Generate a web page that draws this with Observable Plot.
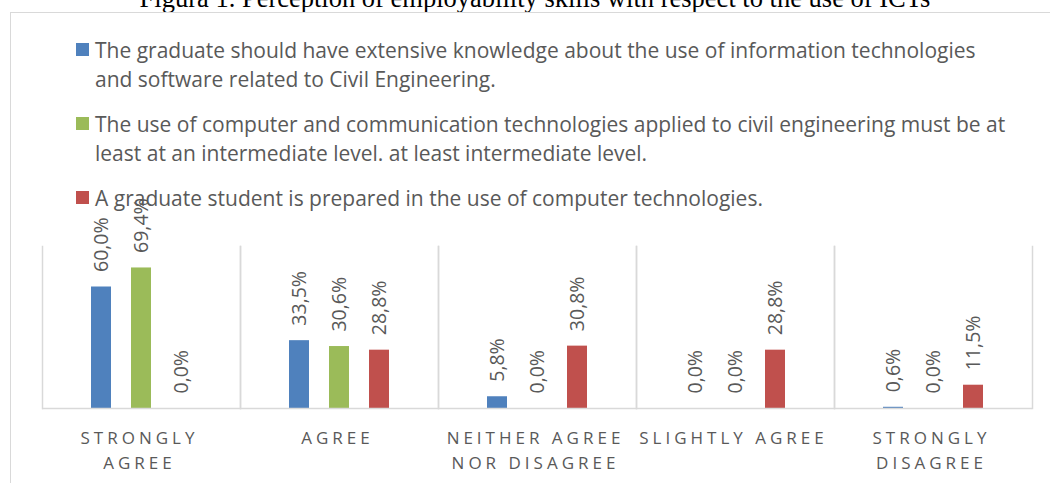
<!DOCTYPE html>
<html><head><meta charset="utf-8">
<script src="https://cdn.jsdelivr.net/npm/d3@7"></script>
<script src="https://cdn.jsdelivr.net/npm/@observablehq/plot@0.6"></script>
<style>
html,body{margin:0;padding:0;background:#fff;}
body{width:1050px;height:483px;overflow:hidden;position:relative;font-family:"Open Sans",sans-serif;}
#title{position:absolute;left:0;width:1070px;top:-13px;text-align:center;font-family:"Liberation Serif",serif;font-size:26.5px;line-height:23px;color:#000;white-space:nowrap;}
#box{position:absolute;left:10px;top:12px;width:1100px;height:600px;border:1px solid #d9d9d9;background:#fff;}
#chart{position:absolute;left:0;top:0;}
#legend{position:absolute;left:0;top:0;}
.item{position:absolute;left:95px;font-size:21px;line-height:28.5px;color:#595959;white-space:nowrap;}
.sw{position:absolute;left:-19px;top:7px;width:13px;height:13px;}
g[aria-description="cats"] text{letter-spacing:4px;}
</style>
</head><body>
<div id="title">Figura 1. Perception of employability skills with respect to the use of ICTs</div>
<div id="box"></div>
<div id="chart"></div>
<div id="legend"></div>
<script>
const categories = ["Strongly agree", "Agree", "Neither agree nor disagree", "Slightly agree", "Strongly disagree"];
const tickLabels = ["STRONGLY\nAGREE", "AGREE", "NEITHER AGREE\nNOR DISAGREE", "SLIGHTLY AGREE", "STRONGLY\nDISAGREE"];
const series = [
  "The graduate should have extensive knowledge about the use of information technologies\nand software related to Civil Engineering.",
  "The use of computer and communication technologies applied to civil engineering must be at\nleast at an intermediate level. at least intermediate level.",
  "A graduate student is prepared in the use of computer technologies."
];
const colors = ["#4F81BD", "#9BBB59", "#C0504D"];
const knowledgeValues = [60.0, 33.5, 5.8, 0.0, 0.6];
const levelValues = [69.4, 30.6, 0.0, 0.0, 0.0];
const preparedValues = [0.0, 28.8, 30.8, 28.8, 11.5];
const seriesValues = [knowledgeValues, levelValues, preparedValues];

const data = [];
categories.forEach((c, i) => {
  series.forEach((s, j) => data.push({cat: c, series: s, value: seriesValues[j][i]}));
});
const catTable = categories.map((c, i) => ({cat: c, label: tickLabels[i]}));
const fmt = v => v.toFixed(1).replace(".", ",") + "%";

// legend
const legend = document.getElementById("legend");
const tops = [36, 110, 184];
series.forEach((s, j) => {
  const div = document.createElement("div");
  div.className = "item";
  div.style.top = tops[j] + "px";
  const sw = document.createElement("div");
  sw.className = "sw";
  sw.style.background = colors[j];
  div.appendChild(sw);
  s.split("\n").forEach((line, k) => {
    if (k) div.appendChild(document.createElement("br"));
    div.appendChild(document.createTextNode(line));
  });
  legend.appendChild(div);
});

const grid = "#d9d9d9";
const plot = Plot.plot({
  width: 1050,
  height: 483,
  marginTop: 246,
  marginBottom: 75,
  marginLeft: 40,
  marginRight: 17,
  style: {fontFamily: "'Open Sans', sans-serif", background: "transparent", overflow: "visible"},
  fx: {domain: categories, padding: 0, axis: null},
  x: {domain: series, paddingInner: 0.49, paddingOuter: 1.17, axis: null},
  y: {domain: [0, 80], axis: null},
  color: {domain: series, range: colors},
  marks: [
    Plot.barY(data, {fx: "cat", x: "series", y: "value", fill: "series"}),
    Plot.frame({anchor: "left", stroke: grid, strokeWidth: 1.5}),
    Plot.frame({anchor: "right", stroke: grid, strokeWidth: 1.5}),
    Plot.ruleY([0], {stroke: grid, strokeWidth: 1.5}),
    Plot.text(data, {fx: "cat", x: "series", y: "value", text: d => fmt(d.value), rotate: -90, textAnchor: "start", dy: -15, fontSize: 19.5, fill: "#595959"}),
    Plot.text(catTable, {fx: "cat", text: "label", frameAnchor: "bottom", lineAnchor: "top", dy: 18, dx: -2, fontSize: 17, lineHeight: 1.47, fill: "#595959", ariaDescription: "cats"})
  ]
});
document.getElementById("chart").appendChild(plot);
</script>
</body></html>
